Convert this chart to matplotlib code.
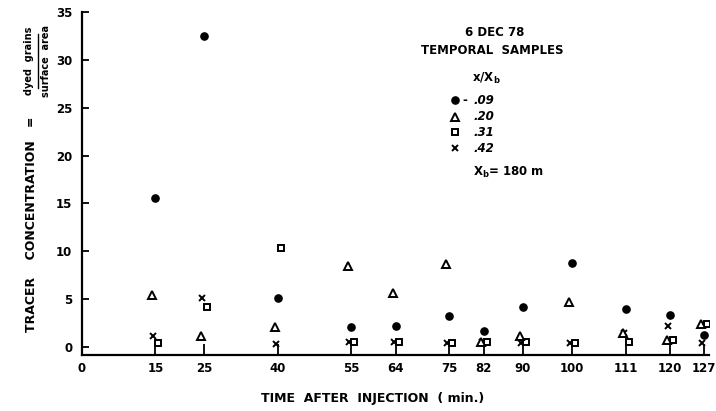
import matplotlib

matplotlib.use("Agg")

import matplotlib.pyplot as plt  # noqa: E402
from matplotlib.lines import Line2D  # noqa: E402
from matplotlib.transforms import offset_copy  # noqa: E402

# sampling times (min after injection) and tracer concentration per x/Xb station
times = [15, 25, 40, 55, 64, 75, 82, 90, 100, 111, 120, 127]
conc_09 = [15.6, 32.5, 5.1, 2.1, 2.2, 3.2, 1.7, 4.2, 8.8, 4.0, 3.3, 1.2]
conc_20 = [5.4, 1.1, 2.1, 8.4, 5.6, 8.7, 0.5, 1.1, 4.7, 1.5, 0.7, 2.4]
conc_31 = [0.4, 4.2, 10.3, 0.5, 0.5, 0.4, 0.5, 0.5, 0.4, 0.5, 0.7, 2.4]
conc_42 = [1.1, 5.1, 0.3, 0.5, 0.5, 0.4, 0.5, 0.4, 0.4, 1.5, 2.2, 0.4]

station_labels = [".09", ".20", ".31", ".42"]
y_ticks = [0, 5, 10, 15, 20, 25, 30, 35]

plt.rcParams["font.family"] = ["DejaVu Sans"]
plt.rcParams["font.weight"] = "bold"

W, H = 716, 411
fig = plt.figure(figsize=(W / 100, H / 100), dpi=100)
ax = fig.add_axes([82 / W, 1 - 355 / H, (709 - 82) / W, (355 - 12) / H])

# marker styles per station, with a small sideways nudge (pixels) so that
# symbols sitting near zero do not hide each other
styles = [
    (conc_09, dict(marker="o", ms=5.2, mfc="black", mec="black"), 0),
    (conc_20, dict(marker="^", ms=5.2, mfc="white", mec="black", mew=1.4), -3),
    (conc_31, dict(marker="s", ms=4.6, mfc="white", mec="black", mew=1.4), 3),
    (conc_42, dict(marker="x", ms=4.6, mec="black", mew=1.4), -2),
]
for values, style, dx in reversed(styles):
    tr = offset_copy(ax.transData, fig=fig, x=dx, y=0, units="dots")
    ax.plot(times, values, ls="none", transform=tr, **style)

ax.set_xlim(0, 128)
ax.set_ylim(-0.85, 35)
for side in ("top", "right"):
    ax.spines[side].set_visible(False)
for side in ("left", "bottom"):
    ax.spines[side].set_linewidth(1.6)

ax.set_xticks([0] + times)
ax.set_xticklabels(["0"] + [str(t) for t in times])
ax.set_yticks(y_ticks)
ax.tick_params(axis="x", direction="in", length=8, width=1.3, pad=5, labelsize=8.5)
ax.tick_params(axis="y", direction="in", length=5, width=1.3, pad=7, labelsize=8.5)

fig.text(373 / W, 1 - 398 / H, "TIME  AFTER  INJECTION  ( min.)",
         ha="center", va="center", fontsize=9)

# y label: text plus a stacked fraction
fig.text(32 / W, 1 - 224 / H, "TRACER    CONCENTRATION   =",
         rotation=90, ha="center", va="center", fontsize=9)
fig.text(29 / W, 1 - 61 / H, "dyed  grains", rotation=90,
         ha="center", va="center", fontsize=7)
fig.text(46 / W, 1 - 61 / H, "surface  area", rotation=90,
         ha="center", va="center", fontsize=7)
fig.add_artist(Line2D([38 / W, 38 / W], [1 - 34 / H, 1 - 88 / H],
                      transform=fig.transFigure, color="black", lw=1.0))

# legend block
fig.text(495 / W, 1 - 33 / H, "6 DEC 78", ha="center", va="center", fontsize=8.5)
fig.text(492 / W, 1 - 50 / H, "TEMPORAL  SAMPLES", ha="center", va="center",
         fontsize=8.5)
fig.text(486 / W, 1 - 78 / H, r"x/X$_\mathbf{b}$", ha="center", va="center",
         fontsize=8.5)
legend_y = [100, 117, 132, 148]
for (values, style, dx), lab, ly in zip(styles, station_labels, legend_y):
    fig.add_artist(Line2D([455 / W], [1 - ly / H], transform=fig.transFigure,
                          ls="none", **style))
    fig.text(473 / W, 1 - ly / H, lab, ha="left", va="center",
             fontsize=8.5, style="italic")
fig.text(465 / W, 1 - 100 / H, "-", ha="center", va="center", fontsize=8.5)
fig.text(473 / W, 1 - 172 / H, r"X$_\mathbf{b}$= 180 m", ha="left",
         va="center", fontsize=8.5)

fig.savefig("out.png", dpi=100)
